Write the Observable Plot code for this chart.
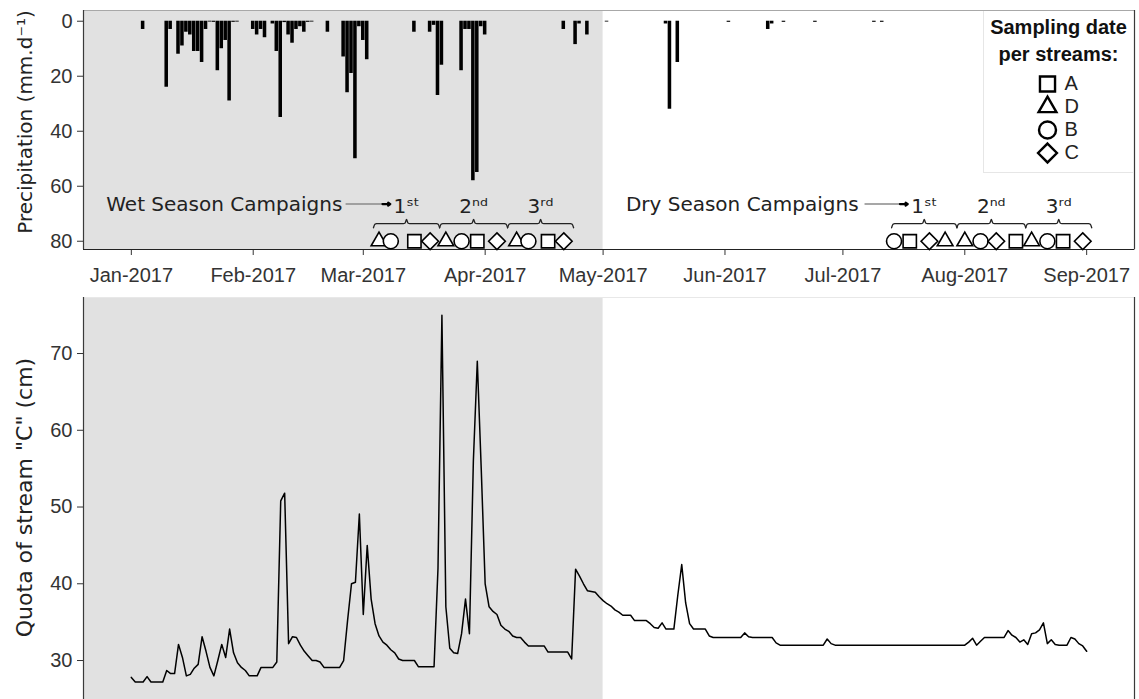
<!DOCTYPE html>
<html><head><meta charset="utf-8">
<script src="https://cdn.jsdelivr.net/npm/d3@7"></script>
<script src="https://cdn.jsdelivr.net/npm/@observablehq/plot@0.6"></script>
<style>
html,body{margin:0;padding:0;background:#fff;width:1139px;height:699px;overflow:hidden;font-family:"Liberation Sans",Arial,sans-serif;}
#wrap{position:relative;width:1139px;height:699px;overflow:hidden;}
#top{position:absolute;left:0;top:0;}
#bottom{position:absolute;left:0;top:290px;}
#legend{position:absolute;left:983px;top:11px;width:150px;height:162px;background:#fff;border-left:1px solid #e6e6e6;border-bottom:1px solid #e6e6e6;box-sizing:border-box;padding-top:3px;}
#legend .lt{font:bold 20px "Liberation Sans",Arial,sans-serif;color:#111;text-align:center;line-height:27px;}
#legkeys{position:absolute;left:47px;top:59px;}
</style></head><body>
<div id="wrap"><div id="top"></div><div id="bottom"></div>
<div id="legend"><div class="lt">Sampling date</div><div class="lt">per streams:</div><div id="legkeys"></div></div></div>
<script>
// ---------- data ----------
const monthTicks = ["2017-01-01","2017-02-01","2017-03-01","2017-04-01","2017-05-01","2017-06-01","2017-07-01","2017-08-01","2017-09-01"];
const xDomain = ["2016-12-19T20:00Z","2017-09-13T04:00Z"];
const wetSeasonEnd = "2017-05-01";

// daily precipitation (mm/day)
const precipDates = ["2017-01-04","2017-01-10","2017-01-11","2017-01-13","2017-01-14","2017-01-15","2017-01-16","2017-01-17","2017-01-18","2017-01-19","2017-01-20","2017-01-21","2017-01-22","2017-01-23","2017-01-24","2017-01-25","2017-01-26","2017-01-27","2017-01-28",
"2017-02-01","2017-02-02","2017-02-03","2017-02-04","2017-02-06","2017-02-07","2017-02-08","2017-02-09","2017-02-10","2017-02-11","2017-02-12","2017-02-13","2017-02-14","2017-02-15","2017-02-16","2017-02-20",
"2017-02-24","2017-02-25","2017-02-26","2017-02-27","2017-02-28","2017-03-01","2017-03-02","2017-03-14","2017-03-18","2017-03-19","2017-03-20","2017-03-21","2017-03-26","2017-03-27","2017-03-28","2017-03-29","2017-03-30","2017-03-31","2017-04-01",
"2017-04-21","2017-04-24","2017-04-25","2017-04-27","2017-05-02","2017-05-17","2017-05-18","2017-05-20","2017-06-02","2017-06-12","2017-06-13","2017-06-16","2017-06-24","2017-07-09","2017-07-11"];
const precipValues = [3,24,3,12,9,4,5,11,11,15,3,0.3,0.4,18,10,7,29,0.4,0.3,
3,5,3,6,1,11,35,0.5,5,8,3,2,4,0.4,0.3,4,
13,26,19,50,2,7,14,4,4,1.5,27,16,18,3,3,58,55,2,5,
3,8.5,1,5,0.3,1,32,15,0.4,3,1,0.4,0.4,0.4,0.4];
const precipTicks = [0,20,40,60,80];
const precipDomain = [-3.9, 83];

// daily quota of stream "C" (cm), from 2017-01-01
const quotaStart = "2017-01-01";
const quotaValues = [
27.8,27.2,27.2,27.2,27.9,27.2,27.2,27.2,27.2,28.7,
28.3,28.3,32.1,30.4,28.0,28.2,29.0,29.5,33.1,31.2,
29.1,28.0,30.0,32.1,30.4,34.1,31.0,29.7,29.1,28.7,
28.0,28.0,28.0,29.1,29.1,29.1,29.1,29.8,50.8,51.8,
32.2,33.1,33.0,32.0,31.2,30.6,30.0,30.0,29.8,29.1,
29.1,29.1,29.1,29.1,30.0,35.2,40.0,40.2,49.1,36.0,
45.0,38.0,34.8,33.2,32.4,32.0,31.4,31.0,30.2,30.0,
30.0,30.0,30.0,29.2,29.2,29.2,29.2,29.2,42.0,75.0,
37.0,31.6,31.0,30.9,33.5,38.0,33.5,56.0,69.0,55.0,
40.0,37.0,36.4,36.0,34.6,34.1,33.8,33.2,33.0,33.0,
32.4,31.9,31.9,31.9,31.9,31.9,31.1,31.1,31.1,31.1,
31.1,31.1,30.2,41.9,41.0,40.0,39.1,39.0,38.9,38.3,
37.8,37.4,37.1,36.6,36.3,35.9,35.9,35.9,35.2,35.2,
35.2,35.2,34.8,34.3,34.2,34.9,34.1,34.1,34.1,38.5,
42.5,37.5,34.8,34.1,34.1,34.1,34.1,33.2,33.0,33.0,
33.0,33.0,33.0,33.0,33.0,33.0,33.6,33.1,33.0,33.0,
33.0,33.0,33.0,33.0,32.3,32.0,32.0,32.0,32.0,32.0,
32.0,32.0,32.0,32.0,32.0,32.0,32.0,32.8,32.2,32.0,
32.0,32.0,32.0,32.0,32.0,32.0,32.0,32.0,32.0,32.0,
32.0,32.0,32.0,32.0,32.0,32.0,32.0,32.0,32.0,32.0,
32.0,32.0,32.0,32.0,32.0,32.0,32.0,32.0,32.0,32.0,
32.0,32.0,32.0,32.4,32.9,32.0,32.5,33.0,33.0,33.0,
33.0,33.0,33.0,33.9,33.3,33.0,32.4,32.7,32.1,33.5,
33.6,34.0,34.9,32.2,32.7,32.1,32.0,32.0,32.0,33.0,
32.8,32.2,31.9,31.2];
const quotaTicks = [30,40,50,60,70];
const quotaDomain = [24.66, 77.3];

// sampling campaigns
const streamKeys = ["A","D","B","C"];
const streamSymbols = ["square","triangle2","circle","diamond2"];
const samplingStream = ["D","B","A","C","D","B","A","C","D","B","A","C","B","A","C","D","D","B","C","A","D","B","A","C"];
const samplingDate = ["2017-03-05","2017-03-08","2017-03-14","2017-03-18","2017-03-22","2017-03-26","2017-03-30","2017-04-04","2017-04-09","2017-04-12","2017-04-17","2017-04-21",
"2017-07-14","2017-07-18","2017-07-23","2017-07-27","2017-08-01","2017-08-05","2017-08-09","2017-08-14","2017-08-18","2017-08-22","2017-08-26","2017-08-31"];
const campaignLabel = ["1ˢᵗ","2ⁿᵈ","3ʳᵈ","1ˢᵗ","2ⁿᵈ","3ʳᵈ"];
const campaignStart = ["2017-03-03T14:00Z","2017-03-20T10:00Z","2017-04-06T17:00Z","2017-07-13T09:00Z","2017-07-30T00:00Z","2017-08-16T12:00Z"];
const campaignEnd = ["2017-03-20T10:00Z","2017-04-06T17:00Z","2017-04-23T12:00Z","2017-07-30T00:00Z","2017-08-16T12:00Z","2017-09-02T07:00Z"];
const seasonNames = ["Wet Season Campaigns","Dry Season Campaigns"];
const seasonTextEnd = ["2017-02-23T16:00Z","2017-07-05T00:00Z"];
const arrowFrom = ["2017-02-24T12:00Z","2017-07-06T12:00Z"];
const arrowTo = ["2017-03-07T21:00Z","2017-07-17T12:00Z"];
const precipTitle = "Precipitation (mm.d⁻¹)";
const quotaTitle = "Quota of stream \"C\" (cm)";

// ---------- build ----------
const DAY = 864e5;
const D = s => new Date(s);
const xDom = xDomain.map(D);
const xTicks = monthTicks.map(D);
const shade = [{start: xDom[0], end: D(wetSeasonEnd)}];
const precip = precipDates.map((d,i) => ({date: D(d), value: precipValues[i]}));
const quota = quotaValues.map((v,i) => ({date: d3.utcDay.offset(D(quotaStart), i), value: v}));
const samples = samplingDate.map((d,i) => ({date: D(d), stream: samplingStream[i]}));
const braces = campaignStart.map((s,i) => ({a: D(s), b: D(campaignEnd[i]), label: campaignLabel[i]}));
const seasons = seasonNames.map((n,i) => ({name: n, end: D(seasonTextEnd[i]), from: D(arrowFrom[i]), to: D(arrowTo[i])}));

const annotY = 66.5, labelY = 67.4, braceY = 73.6, symbolY = 80;
const bracePts = [];
braces.forEach((br,i) => {
  const a = +br.a, b = +br.b, m = (a+b)/2, e = DAY*0.8, h = 1.5;
  [[a,braceY+h],[a+e*0.45,braceY+0.25],[a+e,braceY],[m-e,braceY],[m-e*0.45,braceY-0.25],[m,braceY-h],
   [m+e*0.45,braceY-0.25],[m+e,braceY],[b-e,braceY],[b-e*0.45,braceY+0.25],[b,braceY+h]]
   .forEach(([t,v]) => bracePts.push({i, t: new Date(t), v}));
});

const tickFont = {fontFamily: "'Liberation Sans', Arial, sans-serif", fontSize: "20px", color: "#333", background: "transparent", overflow: "visible"};
const titleFont = "DejaVu Sans, Verdana, sans-serif";
const xScale = {type: "utc", domain: xDom, ticks: xTicks, tickFormat: d3.utcFormat("%b-%Y"), tickSize: 6, tickPadding: 12, label: null};

const topPlot = Plot.plot({
  width: 1139, height: 290, marginLeft: 83, marginRight: 5, marginTop: 10, marginBottom: 41,
  style: tickFont,
  x: xScale,
  y: {domain: precipDomain, reverse: true, ticks: precipTicks, tickSize: 6, tickPadding: 5, label: null},
  symbol: {domain: streamKeys, range: streamSymbols},
  marks: [
    Plot.rect(shade, {x1: "start", x2: "end", fill: "#e1e1e1"}),
    Plot.frame({stroke: "#a8a8a8"}),
    Plot.rect(precip, {x1: d => new Date(+d.date - 0.45*DAY), x2: d => new Date(+d.date + 0.45*DAY), y1: 0, y2: "value", fill: "#000"}),
    Plot.ruleX(xDom, {stroke: "#3a3a3a", strokeWidth: 1.2}),
    Plot.ruleY([precipDomain[1]], {stroke: "#222", strokeWidth: 1.2}),
    Plot.text(seasons, {x: "end", y: annotY, text: "name", textAnchor: "end", fontFamily: titleFont, fontSize: 20, fill: "#222"}),
    Plot.link(seasons, {x1: "from", x2: d => new Date(+d.to - 1.5*DAY), y1: annotY, y2: annotY, stroke: "#8a8a8a", strokeWidth: 1.5}),
    Plot.arrow(seasons, {x1: d => new Date(+d.to - 2*DAY), x2: "to", y1: annotY, y2: annotY, stroke: "#000", strokeWidth: 2.2, headLength: 6, headAngle: 70}),
    Plot.line(bracePts, {x: "t", y: "v", z: "i", stroke: "#222", strokeWidth: 1.3, curve: "monotone-x"}),
    Plot.text(braces, {x: d => new Date((+d.a + +d.b)/2), y: labelY, text: "label", fontFamily: titleFont, fontSize: 20, fill: "#222"}),
    Plot.dot(samples, {x: "date", y: symbolY, symbol: "stream", r: 7.5, fill: "#fff", stroke: "#000", strokeWidth: 1.6}),
    Plot.text([precipTitle], {frameAnchor: "left", dx: -58, dy: -8, rotate: -90, textAnchor: "middle", text: d => d, fontFamily: titleFont, fontSize: 20, fill: "#222"})
  ]
});
document.getElementById("top").appendChild(topPlot);

const bottomPlot = Plot.plot({
  width: 1139, height: 411, marginLeft: 83, marginRight: 5, marginTop: 7, marginBottom: 0,
  style: tickFont,
  x: {type: "utc", domain: xDom, axis: null},
  y: {domain: quotaDomain, ticks: quotaTicks, tickSize: 6, tickPadding: 5, label: null},
  marks: [
    Plot.rect(shade, {x1: "start", x2: "end", fill: "#e1e1e1"}),
    Plot.frame({stroke: "#e8e8e8"}),
    Plot.ruleX(xDom, {stroke: "#3a3a3a", strokeWidth: 1.2}),
    Plot.line(quota, {x: "date", y: "value", stroke: "#000", strokeWidth: 1.5}),
    Plot.text([quotaTitle], {frameAnchor: "left", dx: -59, dy: -2, rotate: -90, textAnchor: "middle", text: d => d, fontFamily: titleFont, fontSize: 22, fill: "#222"})
  ]
});
document.getElementById("bottom").appendChild(bottomPlot);

const legendPlot = Plot.plot({
  width: 70, height: 95, margin: 0,
  style: {background: "transparent", overflow: "visible", color: "#111"},
  x: {axis: null, domain: [0, 1]},
  y: {type: "band", domain: streamKeys, axis: null},
  symbol: {domain: streamKeys, range: streamSymbols},
  marks: [
    Plot.dot(streamKeys, {y: d => d, symbol: d => d, frameAnchor: "left", dx: 16, r: 8.5, fill: "#fff", stroke: "#000", strokeWidth: 2.4}),
    Plot.text(streamKeys, {y: d => d, text: d => d, frameAnchor: "left", dx: 33, textAnchor: "start", fontFamily: "Liberation Sans, Arial, sans-serif", fontSize: 20, fill: "#222"})
  ]
});
document.getElementById("legkeys").appendChild(legendPlot);
</script>
</body></html>
